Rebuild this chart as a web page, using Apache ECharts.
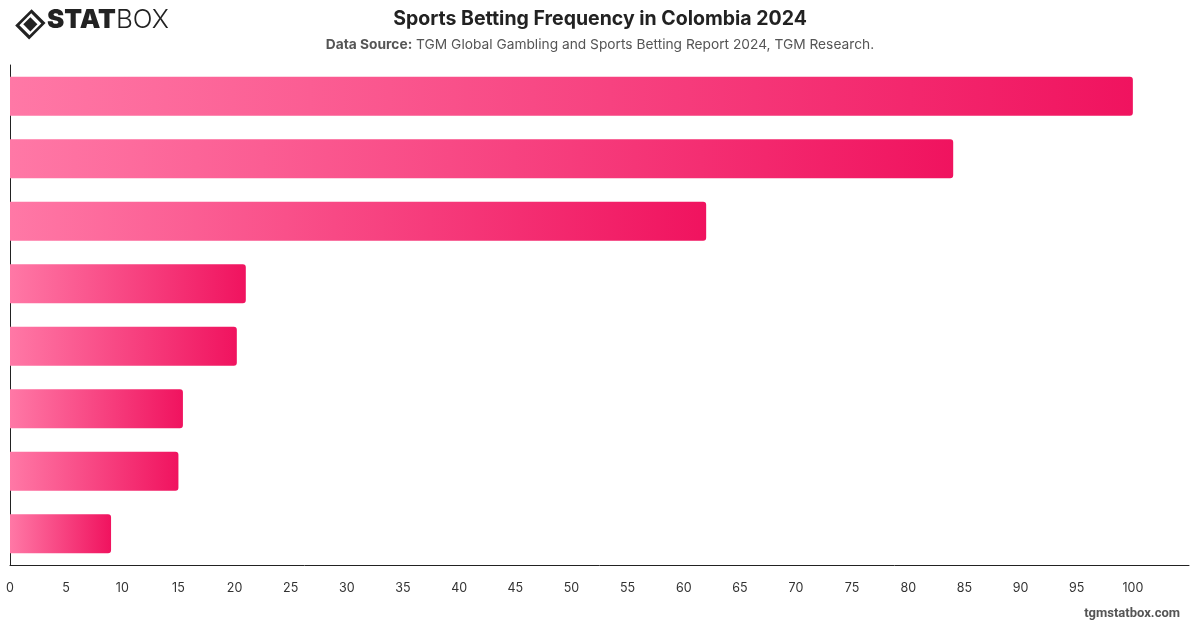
<!DOCTYPE html>
<html>
<head>
<meta charset="utf-8">
<script src="https://cdn.jsdelivr.net/npm/echarts@6/dist/echarts.min.js"></script>
<style>
	html, body { margin: 0; padding: 0; background: #fff; }
	#chart { width: 1200px; height: 628px; }
</style>
</head>
<body>
<div id="chart"></div>
<script>
	var categories = ['A', 'B', 'C', 'D', 'E', 'F', 'G', 'H'];
	var values = [100, 84, 62, 21, 20.2, 15.4, 15, 9];

	var chart = echarts.init(document.getElementById('chart'));
	var option = {
		backgroundColor: '#ffffff',
		textStyle: { fontFamily: 'Inter, "Noto Sans", sans-serif' },
		title: {
			text: 'Sports Betting Frequency in Colombia 2024',
			subtext: '{b|Data Source:} TGM Global Gambling and Sports Betting Report 2024, TGM Research.',
			left: 'center',
			top: 4,
			itemGap: 9,
			textStyle: {
				fontSize: 19.5,
				fontWeight: 'bold',
				color: '#222'
			},
			subtextStyle: {
				fontSize: 13.75,
				color: '#555',
				rich: {
					b: { fontSize: 13.75, fontWeight: 'bold', color: '#555' }
				}
			}
		},
		graphic: [
			{
				type: 'group',
				left: 14,
				top: 8,
				children: [
					{ type: 'rect', shape: { x: -10, y: -10, width: 20, height: 20 }, x: 15, y: 14, rotation: Math.PI / 4, scaleY: 0.85,
						style: { fill: 'none', stroke: '#222', lineWidth: 3.2 } },
					{ type: 'rect', shape: { x: -5, y: -5, width: 10, height: 10 }, x: 15, y: 14, rotation: Math.PI / 4,
						style: { fill: '#222' } }
				]
			},
			{
				type: 'text',
				left: 47,
				top: 7,
				style: {
					text: '{a|STAT}{c|BOX}',
					rich: {
						a: { fontSize: 26, fontWeight: 900, fill: '#222', fontFamily: 'Inter, sans-serif' },
						c: { fontSize: 26, fontWeight: 300, fill: '#222', fontFamily: 'Inter, sans-serif' }
					}
				}
			},
			{
				type: 'text',
				right: 20,
				top: 607,
				style: {
					text: 'tgmstatbox.com',
					fontSize: 13,
					fontWeight: 'bold',
					fill: '#555',
					fontFamily: 'Roboto, sans-serif'
				}
			}
		],
		grid: {
			left: 10,
			right: 11,
			top: 65,
			bottom: 63
		},
		xAxis: {
			type: 'value',
			min: 0,
			max: 105,
			interval: 5,
			splitLine: { show: false },
			axisLine: { show: true, lineStyle: { color: '#222', width: 1 } },
			axisTick: { show: false },
			axisLabel: {
				color: '#333',
				fontSize: 12.5,
				margin: 17,
				showMaxLabel: false
			}
		},
		yAxis: {
			type: 'category',
			inverse: true,
			data: categories,
			axisLine: { show: true, lineStyle: { color: '#222', width: 1 } },
			axisTick: { show: false },
			axisLabel: { show: false }
		},
		series: [
			{
				type: 'bar',
				data: values,
				barWidth: '62.5%',
				itemStyle: {
					borderRadius: [0, 3, 3, 0],
					color: new echarts.graphic.LinearGradient(0, 0, 1, 0, [
						{ offset: 0, color: '#ff78a6' },
						{ offset: 1, color: '#f0135f' }
					])
				}
			}
		]
	};
	chart.setOption(option);
</script>
</body>
</html>
